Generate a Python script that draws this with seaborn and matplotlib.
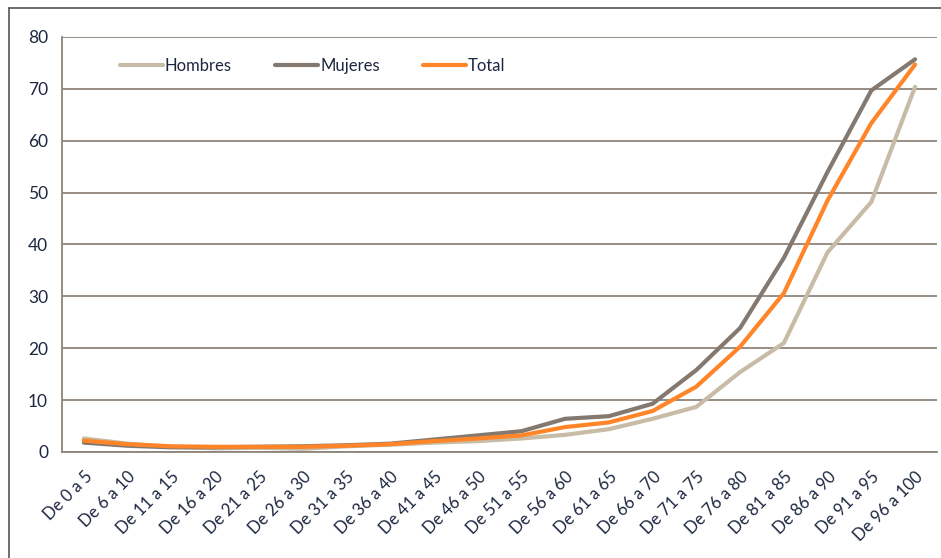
import matplotlib
matplotlib.use("Agg")
import matplotlib.pyplot as plt
from matplotlib.lines import Line2D
from matplotlib.ticker import FixedLocator, MultipleLocator
from matplotlib.transforms import ScaledTranslation
import numpy as np
import pandas as pd
import seaborn as sns

# Age groups (5-year bands)
categories = ["De 0 a 5", "De 6 a 10", "De 11 a 15", "De 16 a 20", "De 21 a 25",
              "De 26 a 30", "De 31 a 35", "De 36 a 40", "De 41 a 45", "De 46 a 50",
              "De 51 a 55", "De 56 a 60", "De 61 a 65", "De 66 a 70", "De 71 a 75",
              "De 76 a 80", "De 81 a 85", "De 86 a 90", "De 91 a 95", "De 96 a 100"]

hombres = [2.6, 1.6, 1.0, 0.7, 0.8, 0.6, 1.1, 1.4, 1.8, 2.1,
           2.6, 3.3, 4.4, 6.4, 8.7, 15.4, 21.0, 38.5, 48.2, 70.4]
mujeres = [1.8, 1.2, 0.9, 0.9, 1.0, 1.1, 1.3, 1.6, 2.4, 3.2,
           4.0, 6.4, 6.9, 9.3, 15.8, 23.9, 37.4, 54.0, 69.7, 75.7]
total = [2.2, 1.5, 1.1, 1.0, 1.0, 1.0, 1.2, 1.5, 2.1, 2.6,
         3.2, 4.8, 5.7, 7.9, 12.6, 20.3, 30.6, 48.5, 63.4, 74.7]

series_names = ["Hombres", "Mujeres", "Total"]
colors = {"Hombres": "#C8BCA6", "Mujeres": "#847970", "Total": "#FF8528"}

df = pd.DataFrame({
    "pos": list(range(len(categories))) * 3,
    "valor": hombres + mujeres + total,
    "serie": ["Hombres"] * len(hombres) + ["Mujeres"] * len(mujeres) + ["Total"] * len(total),
})

sns.set_style("white")
plt.rcParams["font.family"] = ["Lato", "DejaVu Sans"]

grid_color = "#8E857B"
text_color = "#1C2740"

fig = plt.figure(figsize=(9.41, 5.58), dpi=100)
ax = fig.add_axes([0.0659, 0.19, 0.9298, 0.7437])

sns.lineplot(data=df, x="pos", y="valor", hue="serie", hue_order=series_names,
             palette=colors, linewidth=3.0, ax=ax, legend=False, sort=False)

n = len(categories)
ax.set_xlim(-0.5, n - 0.5)
ax.set_ylim(0, 80)

# horizontal gridlines
ax.yaxis.set_major_locator(MultipleLocator(10))
ax.grid(axis="y", color=grid_color, linewidth=1.3)
ax.grid(axis="x", visible=False)
ax.set_axisbelow(True)

# category labels at centres, tick marks at band boundaries
ax.set_xticks(np.arange(n))
ax.set_xticklabels(categories, rotation=45, ha="right", rotation_mode="anchor",
                   fontsize=12, color=text_color)
shift = ScaledTranslation(6 / 100, 0, fig.dpi_scale_trans)
for lbl in ax.get_xticklabels():
    lbl.set_transform(lbl.get_transform() + shift)
ax.xaxis.set_minor_locator(FixedLocator(np.arange(-0.5, n, 1.0)))
ax.tick_params(axis="x", which="major", length=0, pad=12)
ax.tick_params(axis="x", which="minor", length=5, width=1.3, color=grid_color,
               direction="out")
ax.tick_params(axis="y", length=5, width=1.3, color=grid_color, direction="out",
               labelsize=12.5, labelcolor=text_color, pad=5)

for side in ["top", "right"]:
    ax.spines[side].set_visible(False)
for side in ["left", "bottom"]:
    ax.spines[side].set_color(grid_color)
    ax.spines[side].set_linewidth(1.3)

ax.set_xlabel("")
ax.set_ylabel("")

handles = [Line2D([0], [0], color=colors[s], linewidth=3.0) for s in series_names]
ax.legend(handles, series_names, loc="center left", bbox_to_anchor=(0.066, 0.93),
          ncol=3, frameon=False, fontsize=12, handlelength=2.6, handletextpad=0.1,
          columnspacing=2.6, borderpad=0, borderaxespad=0,
          labelcolor=text_color)

# frame edges on the left and top of the figure
fig.add_artist(Line2D([9 / 941, 9 / 941], [0, 1 - 8 / 558], color="#555555",
                      linewidth=1.2, transform=fig.transFigure))
fig.add_artist(Line2D([9 / 941, 1], [1 - 8 / 558, 1 - 8 / 558], color="#555555",
                      linewidth=1.2, transform=fig.transFigure))

fig.savefig("out.png", dpi=100)
